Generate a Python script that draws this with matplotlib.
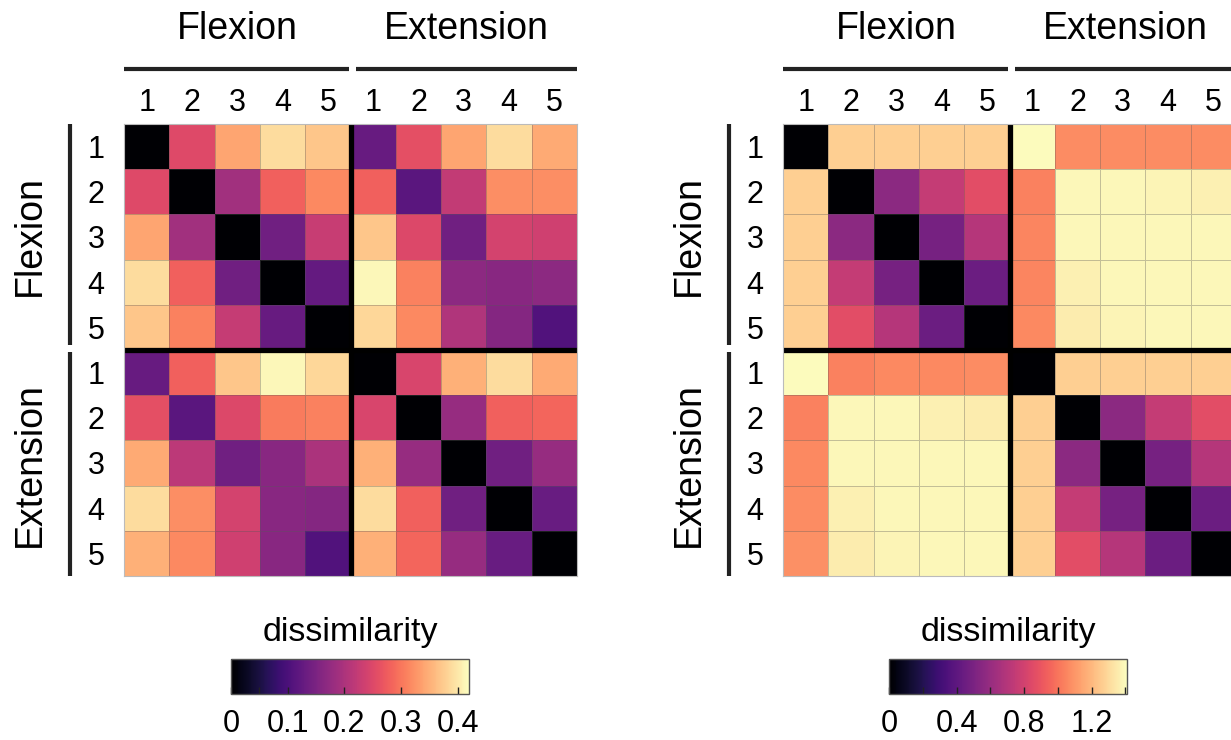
import numpy as np
import matplotlib
matplotlib.use('Agg')
import matplotlib.pyplot as plt

plt.rcParams['font.family'] = ['Liberation Sans', 'DejaVu Sans']

# conditions: 5 flexion + 5 extension
groups = ['Flexion', 'Extension']
nums = ['1', '2', '3', '4', '5']

# left matrix (dissimilarity, range 0 - 0.42)
left_F1 = [0, 0.252, 0.34, 0.39, 0.37, 0.128, 0.26, 0.34, 0.39, 0.345]
left_F2 = [0.252, 0, 0.19, 0.28, 0.315, 0.28, 0.115, 0.223, 0.32, 0.32]
left_F3 = [0.34, 0.19, 0, 0.138, 0.227, 0.37, 0.25, 0.138, 0.24, 0.235]
left_F4 = [0.39, 0.28, 0.138, 0, 0.125, 0.415, 0.31, 0.168, 0.163, 0.168]
left_F5 = [0.37, 0.31, 0.225, 0.128, 0, 0.385, 0.315, 0.205, 0.16, 0.105]
left_E1 = [0.128, 0.28, 0.37, 0.415, 0.385, 0, 0.245, 0.35, 0.39, 0.345]
left_E2 = [0.26, 0.115, 0.25, 0.305, 0.31, 0.245, 0, 0.178, 0.28, 0.285]
left_E3 = [0.345, 0.215, 0.138, 0.163, 0.2, 0.35, 0.178, 0, 0.138, 0.178]
left_E4 = [0.39, 0.32, 0.24, 0.163, 0.16, 0.39, 0.28, 0.138, 0, 0.13]
left_E5 = [0.35, 0.315, 0.235, 0.163, 0.105, 0.35, 0.285, 0.178, 0.13, 0]

# right matrix (dissimilarity, range 0 - 1.41)
right_F1 = [0, 1.27, 1.27, 1.27, 1.27, 1.40, 1.07, 1.07, 1.07, 1.07]
right_F2 = [1.27, 0, 0.56, 0.75, 0.86, 1.04, 1.39, 1.39, 1.38, 1.37]
right_F3 = [1.27, 0.56, 0, 0.49, 0.70, 1.05, 1.39, 1.39, 1.39, 1.39]
right_F4 = [1.27, 0.75, 0.49, 0, 0.45, 1.05, 1.37, 1.39, 1.39, 1.39]
right_F5 = [1.27, 0.86, 0.70, 0.45, 0, 1.06, 1.36, 1.38, 1.39, 1.39]
right_E1 = [1.40, 1.04, 1.06, 1.06, 1.07, 0, 1.27, 1.27, 1.27, 1.27]
right_E2 = [1.04, 1.39, 1.39, 1.37, 1.36, 1.27, 0, 0.56, 0.75, 0.86]
right_E3 = [1.06, 1.39, 1.39, 1.39, 1.39, 1.27, 0.56, 0, 0.49, 0.70]
right_E4 = [1.07, 1.37, 1.39, 1.39, 1.39, 1.27, 0.75, 0.49, 0, 0.45]
right_E5 = [1.08, 1.36, 1.38, 1.39, 1.39, 1.27, 0.86, 0.70, 0.45, 0]

left_vmax = 0.42
right_vmax = 1.41
left_cticks = [0, 0.05, 0.1, 0.2, 0.3, 0.4]
left_clabels = ['0', '', '0.1', '0.2', '0.3', '0.4']
right_cticks = [0, 0.2, 0.4, 0.6, 0.8, 1.0, 1.2, 1.4]
right_clabels = ['0', '', '0.4', '', '0.8', '', '1.2', '']

left_mat = np.array([left_F1, left_F2, left_F3, left_F4, left_F5,
                     left_E1, left_E2, left_E3, left_E4, left_E5])
right_mat = np.array([right_F1, right_F2, right_F3, right_F4, right_F5,
                      right_E1, right_E2, right_E3, right_E4, right_E5])

W, H = 1231, 740
fig = plt.figure(figsize=(W / 100, H / 100), dpi=100)


def px_axes(x0, y0, x1, y1):
    return fig.add_axes([x0 / W, 1 - y1 / H, (x1 - x0) / W, (y1 - y0) / H])


def draw_rdm(ax, mat, vmax):
    mesh = ax.pcolormesh(mat, cmap='magma', vmin=0, vmax=vmax,
                         edgecolors=(0.35, 0.35, 0.35, 0.35), linewidth=0.6)
    ax.set_xlim(0, 10)
    ax.set_ylim(10, 0)
    ax.axvline(5, color='k', lw=3.8)
    ax.axhline(5, color='k', lw=3.8)
    for s in ax.spines.values():
        s.set_edgecolor('#bbbbbb')
        s.set_linewidth(0.8)
    ax.xaxis.tick_top()
    ax.set_xticks(np.arange(10) + 0.5)
    ax.set_xticklabels(nums * 2, fontsize=22)
    ax.set_yticks(np.arange(10) + 0.5)
    ax.set_yticklabels(nums * 2, fontsize=22)
    ax.tick_params(length=0, pad=4)
    ax.tick_params(axis='y', pad=14)
    # group bars and labels
    ax.plot([0, 0.497], [1.122, 1.122], color='#222222', lw=3, transform=ax.transAxes,
            clip_on=False, solid_capstyle='butt')
    ax.plot([0.512, 1.0], [1.122, 1.122], color='#222222', lw=3, transform=ax.transAxes,
            clip_on=False, solid_capstyle='butt')
    ax.plot([-0.119, -0.119], [1.0, 0.51], color='#222222', lw=3, transform=ax.transAxes,
            clip_on=False, solid_capstyle='butt')
    ax.plot([-0.119, -0.119], [0.495, 0.0], color='#222222', lw=3, transform=ax.transAxes,
            clip_on=False, solid_capstyle='butt')
    ax.text(0.25, 1.21, groups[0], fontsize=27, ha='center', va='center', transform=ax.transAxes)
    ax.text(0.755, 1.21, groups[1], fontsize=27, ha='center', va='center', transform=ax.transAxes)
    ax.text(-0.207, 0.754, groups[0], fontsize=27, ha='center', va='center', rotation=90,
            transform=ax.transAxes)
    ax.text(-0.207, 0.246, groups[1], fontsize=27, ha='center', va='center', rotation=90,
            transform=ax.transAxes)
    return mesh


def draw_cbar(cax, mesh, ticks, labels):
    cb = fig.colorbar(mesh, cax=cax, orientation='horizontal')
    cb.set_ticks(ticks)
    cb.set_ticklabels(labels)
    cb.outline.set_edgecolor('#555555')
    cb.outline.set_linewidth(1)
    cax.tick_params(direction='in', length=5, width=1, labelsize=22, pad=11, color='#222222')
    b = cax.get_position()
    fig.text((b.x0 + b.x1) / 2, 1 - 632 / H, 'dissimilarity', fontsize=24.5,
             ha='center', va='center')
    return cb


ax1 = px_axes(124, 124, 577, 576)
m1 = draw_rdm(ax1, left_mat, left_vmax)
ax2 = px_axes(783, 124, 1236, 576)
m2 = draw_rdm(ax2, right_mat, right_vmax)

cax1 = px_axes(231, 659, 469, 694)
draw_cbar(cax1, m1, left_cticks, left_clabels)
cax2 = px_axes(889, 659, 1127, 694)
draw_cbar(cax2, m2, right_cticks, right_clabels)

fig.savefig('out.png', dpi=100)
